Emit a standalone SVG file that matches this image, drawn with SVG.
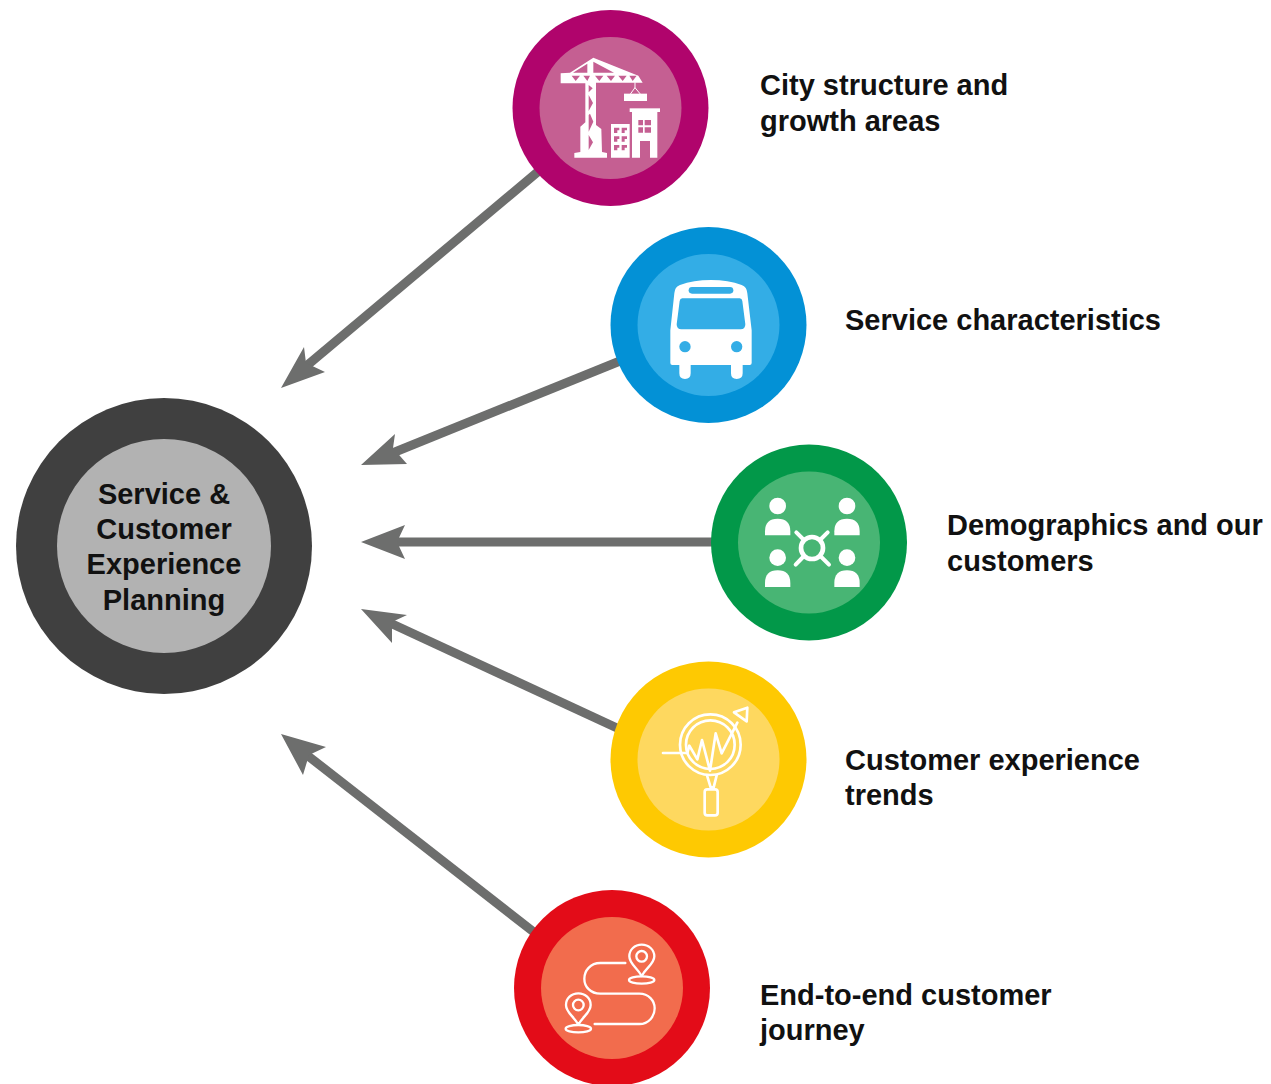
<svg xmlns="http://www.w3.org/2000/svg" width="1271" height="1084" viewBox="0 0 1271 1084">
<style>
text{font-family:"Liberation Sans",Arial,sans-serif;font-weight:700;font-size:29px;fill:#111}
.c{text-anchor:middle}
.s{stroke:#6d6e6d;stroke-width:9;fill:none}
.h{fill:#6d6e6d}
.w{fill:#fff}
.l{fill:none;stroke:#fff;stroke-width:4;stroke-linecap:round;stroke-linejoin:round}
</style>
<rect width="1271" height="1084" fill="#fff"/>
<g id="connectors">
<path class="s" d="M540 170L304 368"/><path class="h" d="M281 388L304 347L306 363L325 372Z"/>
<path class="s" d="M620 361L390 454"/><path class="h" d="M361 465L395 434L393 448L407 464Z"/>
<path class="s" d="M715 542L395 542"/><path class="h" d="M361 542L405 525L397 542L405 559Z"/>
<path class="s" d="M617 728L388 622"/><path class="h" d="M361 609L407 615L392 622L392 643Z"/>
<path class="s" d="M535 933L303 752"/><path class="h" d="M281 734L326 747L309 755L303 775Z"/>
</g>
<g id="hub">
<circle cx="164" cy="546" r="148" fill="#404040"/><circle cx="164" cy="546" r="107" fill="#b2b2b2"/>
<text class="c" x="164" y="504">Service &amp;</text>
<text class="c" x="164" y="539">Customer</text>
<text class="c" x="164" y="574">Experience</text>
<text class="c" x="164" y="610">Planning</text>
</g>
<g id="city">
<circle cx="610.500" cy="108" r="98" fill="#b0046c"/><circle cx="610.500" cy="108" r="71" fill="#c55f92"/>
<g transform="translate(510 5) scale(.33333)">
<path class="w" fill-rule="evenodd" d="M152 205L180 203L250 158L385 212L398 233L258 233L258 360L274 372L276 441L291 444L291 458L193 458L193 444L211 441L211 365L226 352L226 235L182 235L152 235ZM189 203L232 203L232 176ZM250 170L250 203L312 203ZM185 212L197 228L210 212ZM220 212L232 228L240 212ZM255 212L268 228L280 212ZM290 212L303 228L315 212ZM325 212L338 228L350 212ZM358 212L368 228L380 212ZM236 240L236 262L248 250ZM236 270L236 318L249 294ZM240 326L236 330L236 380L250 350ZM236 390L236 435L249 412Z"/>
<path class="l" style="stroke-width:3" d="M375 233V248L362 266M375 248L390 266"/>
<rect class="w" x="342" y="266" width="69" height="22"/>
<rect class="w" x="359" y="310" width="91" height="11"/>
<path class="w" fill-rule="evenodd" d="M366 321H442V458H420V408H390V458H366ZM385 345V361H399V345ZM404 345V361H423V345ZM385 367V383H399V367ZM404 367V383H423V367Z"/>
<path class="w" fill-rule="evenodd" d="M303 357H359V458H303ZM312 368V384H322V376H328V368ZM335 368V384H344V376H351V368ZM312 394V410H322V402H328V394ZM335 394V410H344V402H351V394ZM312 420V436H322V428H328V420ZM335 420V436H344V428H351V420Z"/>
</g>
<text x="760" y="95">City structure and</text><text x="760" y="131">growth areas</text>
</g>
<g id="service">
<circle cx="708.500" cy="325" r="98" fill="#0391d6"/><circle cx="708.500" cy="325" r="71" fill="#33ade6"/>
<g transform="translate(610 225) scale(.33333)">
<path class="w" d="M181 316L193 205Q194 186 210 180Q250 165 303 165Q355 165 395 180Q411 186 412 205L425 316V414Q425 420 419 420H398V445Q398 462 380 462Q363 462 363 445V420H242V445Q242 462 225 462Q208 462 208 445V420H187Q181 420 181 414Z"/>
<rect x="236" y="186" width="134" height="20" rx="10" fill="#33ade6"/>
<path d="M217 220H389Q396 220 397 228L406 298Q406 313 392 313H214Q200 313 200 298L209 228Q210 220 217 220Z" fill="#33ade6"/>
<circle cx="225" cy="365" r="17" fill="#33ade6"/><circle cx="380" cy="365" r="17" fill="#33ade6"/>
</g>
<text x="845" y="330">Service characteristics</text>
</g>
<g id="demographics">
<circle cx="809" cy="542.500" r="98" fill="#029849"/><circle cx="809" cy="542.500" r="71" fill="#48b574"/>
<g transform="translate(710 442) scale(.33333)">
<g id="p"><circle class="w" cx="203" cy="192" r="25"/><path class="w" d="M165 280V268Q165 230 203 230Q241 230 241 268V280Z"/></g>
<circle class="w" cx="411" cy="192" r="25"/><path class="w" d="M373 280V268Q373 230 411 230Q449 230 449 268V280Z"/>
<circle class="w" cx="203" cy="347" r="25"/><path class="w" d="M165 435V423Q165 385 203 385Q241 385 241 423V435Z"/>
<circle class="w" cx="411" cy="347" r="25"/><path class="w" d="M373 435V423Q373 385 411 385Q449 385 449 423V435Z"/>
<circle cx="306" cy="318" r="33" fill="none" stroke="#fff" stroke-width="14"/>
<path fill="none" stroke="#fff" stroke-width="12" stroke-linecap="round" d="M259 271L282 294M353 271L330 294M257 368L282 342M357 368L331 342"/>
</g>
<text x="947" y="535">Demographics and our</text><text x="947" y="571">customers</text>
</g>
<g id="trends">
<circle cx="708.500" cy="759.500" r="98" fill="#fec902"/><circle cx="708.500" cy="759.500" r="71" fill="#fed85f"/>
<g transform="translate(610 660) scale(.33333)">
<g class="l" style="stroke-width:8">
<circle cx="301" cy="254" r="91"/>
<circle cx="301" cy="254" r="73"/>
<path d="M159 279H232L238 257L262 298L276 240L300 332L317 220L335 280L382 188"/>
<path d="M372 157L412 143L410 184Z"/>
<path d="M291 346L302 382H311L320 346"/>
<rect x="284" y="388" width="39" height="78" rx="8"/>
</g>
</g>
<text x="845" y="770">Customer experience</text><text x="845" y="805">trends</text>
</g>
<g id="journey">
<circle cx="612" cy="988" r="98" fill="#e30c18"/><circle cx="612" cy="988" r="71" fill="#f26c4d"/>
<g transform="translate(512 884) scale(.33333)">
<g class="l" style="stroke-width:7">
<path d="M340 237H265C235 237 217 260 217 284C217 308 235 329 265 329H382C410 329 428 350 428 373C428 397 410 420 382 420H248"/>
<path d="M389 276C375 250 352 240 352 217C352 197 368 182 389 182C410 182 427 197 427 217C427 240 403 250 389 276Z"/>
<circle cx="389" cy="217" r="16"/>
<ellipse cx="389" cy="288" rx="38" ry="11"/>
<path d="M199 422C185 396 162 386 162 363C162 343 178 328 199 328C220 328 236 343 236 363C236 386 213 396 199 422Z"/>
<circle cx="199" cy="363" r="16"/>
<ellipse cx="199" cy="434" rx="38" ry="11"/>
</g>
</g>
<text x="760" y="1005">End-to-end customer</text><text x="760" y="1040">journey</text>
</g>
</svg>
